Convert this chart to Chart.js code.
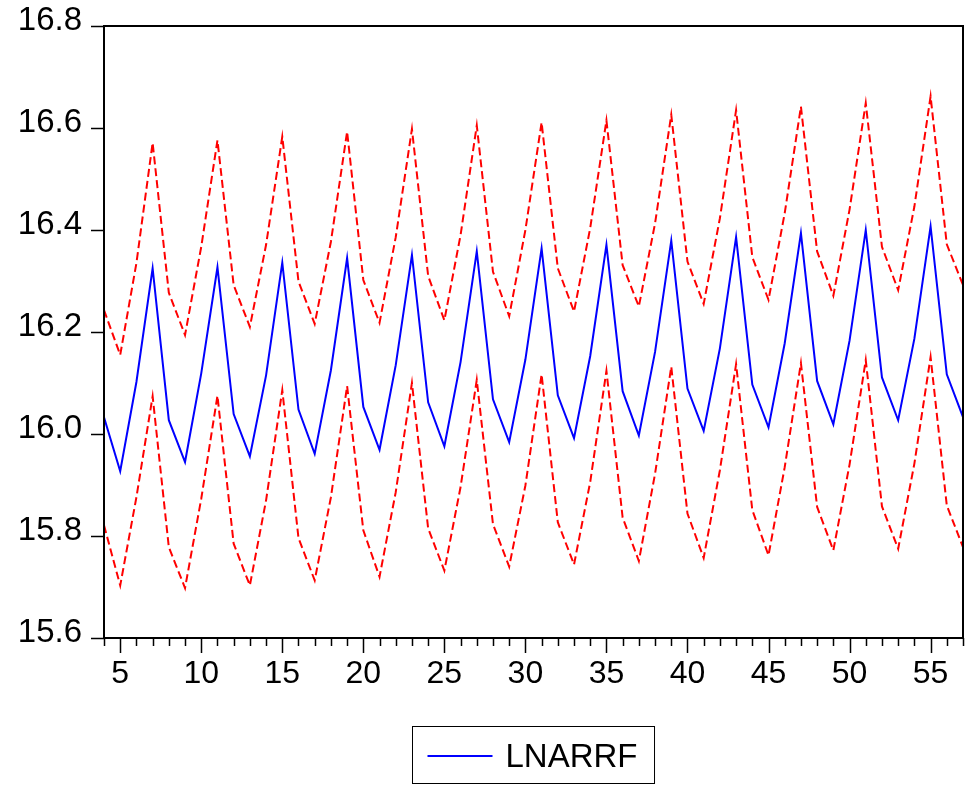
<!DOCTYPE html>
<html>
<head>
<meta charset="utf-8">
<script src="https://cdn.jsdelivr.net/npm/chart.js@4/dist/chart.umd.min.js"></script>
<style>
  html, body { margin: 0; padding: 0; background: #fff; }
  #wrap { width: 967px; height: 786px; }
</style>
</head>
<body>
<div id="wrap"><canvas id="chart" width="967" height="786"></canvas></div>
<script>
// ── data ──────────────────────────────────────────────────────────────────────

var periods = [4, 5, 6, 7, 8, 9, 10, 11, 12, 13, 14, 15, 16, 17, 18, 19, 20, 21, 22, 23,
               24, 25, 26, 27, 28, 29, 30, 31, 32, 33, 34, 35, 36, 37, 38, 39, 40, 41, 42, 43,
               44, 45, 46, 47, 48, 49, 50, 51, 52, 53, 54, 55, 56, 57];

var lnarrf = [16.033, 15.927, 16.102, 16.325, 16.027, 15.945, 16.119, 16.327, 16.039, 15.956,
              16.115, 16.336, 16.048, 15.961, 16.125, 16.345, 16.053, 15.969, 16.135, 16.351,
              16.062, 15.976, 16.141, 16.358, 16.068, 15.984, 16.146, 16.364, 16.076, 15.992,
              16.153, 16.371, 16.084, 15.997, 16.161, 16.379, 16.089, 16.006, 16.168, 16.386,
              16.097, 16.013, 16.178, 16.394, 16.104, 16.019, 16.183, 16.400, 16.111, 16.027,
              16.187, 16.407, 16.117, 16.033];

var upperBand = [16.243, 16.155, 16.335, 16.571, 16.277, 16.194, 16.367, 16.576, 16.292, 16.210,
                 16.371, 16.583, 16.299, 16.216, 16.377, 16.593, 16.302, 16.218, 16.386, 16.598,
                 16.310, 16.223, 16.390, 16.605, 16.318, 16.231, 16.400, 16.611, 16.325, 16.240,
                 16.404, 16.615, 16.331, 16.250, 16.413, 16.626, 16.338, 16.255, 16.423, 16.635,
                 16.347, 16.263, 16.433, 16.642, 16.358, 16.271, 16.440, 16.649, 16.367, 16.282,
                 16.446, 16.662, 16.372, 16.292];

var lowerBand = [15.821, 15.703, 15.876, 16.074, 15.778, 15.698, 15.873, 16.075, 15.785, 15.703,
                 15.870, 16.086, 15.796, 15.713, 15.876, 16.094, 15.811, 15.720, 15.886, 16.100,
                 15.815, 15.732, 15.896, 16.106, 15.823, 15.740, 15.899, 16.117, 15.827, 15.744,
                 15.906, 16.124, 15.836, 15.751, 15.922, 16.132, 15.844, 15.757, 15.929, 16.137,
                 15.851, 15.762, 15.935, 16.139, 15.857, 15.772, 15.940, 16.145, 15.858, 15.775,
                 15.942, 16.151, 15.860, 15.778];

var yTickValues = [15.6, 15.8, 16.0, 16.2, 16.4, 16.6, 16.8];

// ── helpers ───────────────────────────────────────────────────────────────────

var FONT = "'Liberation Sans', Arial, sans-serif";

function toPoints(xs, ys) {
  return xs.map(function(x, i) { return { x: x, y: ys[i] }; });
}

function noPadding(s) {
  s.paddingLeft = 0;
  s.paddingRight = 0;
  s.paddingTop = 0;
  s.paddingBottom = 0;
}

// frame, tick marks and the boxed legend
var framePlugin = {
  id: "frame",
  afterDraw: function(chart) {
    var ctx = chart.ctx;
    var a = chart.chartArea;
    var xs = chart.scales.x;
    var ys = chart.scales.y;
    ctx.save();
    ctx.strokeStyle = "#000";
    ctx.lineWidth = 1.5;
    ctx.beginPath();
    ys.ticks.forEach(function(t) {
      var py = Math.round(ys.getPixelForValue(t.value)) + 0.5;
      ctx.moveTo(a.left - 13, py);
      ctx.lineTo(a.left, py);
    });
    xs.ticks.forEach(function(t) {
      var px = Math.round(xs.getPixelForValue(t.value)) + 0.5;
      var len = t.value % 5 === 0 ? 15 : 8;
      ctx.moveTo(px, a.bottom);
      ctx.lineTo(px, a.bottom + len);
    });
    ctx.stroke();

    ctx.lineWidth = 2;
    ctx.strokeRect(a.left, a.top, a.right - a.left, a.bottom - a.top);

    // legend
    var ds = chart.data.datasets[0];
    ctx.font = "33px " + FONT;
    var tw = ctx.measureText(ds.label).width;
    var bw = 15 + 65 + 13 + tw + 17;
    var cx = (a.left + a.right) / 2;
    var bx = Math.round(cx - bw / 2) + 0.5;
    var by = 726.5;
    ctx.lineWidth = 1;
    ctx.strokeRect(bx, by, bw, 57);
    ctx.strokeStyle = ds.borderColor;
    ctx.lineWidth = 2;
    ctx.beginPath();
    ctx.moveTo(bx + 15, 756);
    ctx.lineTo(bx + 80, 756);
    ctx.stroke();
    ctx.fillStyle = "#000";
    ctx.textBaseline = "alphabetic";
    ctx.fillText(ds.label, bx + 93, 767);
    ctx.restore();
  }
};

// ── chart ─────────────────────────────────────────────────────────────────────

var ctx = document.getElementById("chart").getContext("2d");
var chart = new Chart(ctx, {
  type: "line",
  data: {
    datasets: [
      {
        label: "LNARRF",
        data: toPoints(periods, lnarrf),
        borderColor: "#0000ff",
        borderWidth: 2,
        pointRadius: 0,
        tension: 0,
        fill: false
      },
      {
        label: "upper",
        data: toPoints(periods, upperBand),
        borderColor: "#ff0000",
        borderWidth: 2,
        borderDash: [8, 4],
        pointRadius: 0,
        tension: 0,
        fill: false
      },
      {
        label: "lower",
        data: toPoints(periods, lowerBand),
        borderColor: "#ff0000",
        borderWidth: 2,
        borderDash: [8, 4],
        pointRadius: 0,
        tension: 0,
        fill: false
      }
    ]
  },
  options: {
    responsive: false,
    animation: false,
    layout: { padding: { top: 26, right: 4, left: 0, bottom: 0 } },
    plugins: {
      legend: { display: false },
      tooltip: { enabled: false }
    },
    scales: {
      x: {
        type: "linear",
        min: 4,
        max: 57,
        afterFit: function(s) { s.height = 148; noPadding(s); },
        grid: { display: false, drawTicks: false },
        border: { display: false },
        ticks: {
          stepSize: 1,
          autoSkip: false,
          maxRotation: 0,
          minRotation: 0,
          padding: 17,
          color: "#000",
          font: { family: FONT, size: 32 },
          callback: function(v) { return v % 5 === 0 ? String(v) : ""; }
        }
      },
      y: {
        min: 15.6,
        max: 16.8,
        afterFit: function(s) { s.width = 104; noPadding(s); },
        afterBuildTicks: function(s) {
          s.ticks = yTickValues.map(function(v) { return { value: v }; });
        },
        grid: { display: false, drawTicks: false },
        border: { display: false },
        ticks: {
          padding: 22,
          labelOffset: -5,
          color: "#000",
          font: { family: FONT, size: 33 },
          callback: function(v) { return Number(v).toFixed(1); }
        }
      }
    }
  },
  plugins: [framePlugin]
});
</script>
</body>
</html>
